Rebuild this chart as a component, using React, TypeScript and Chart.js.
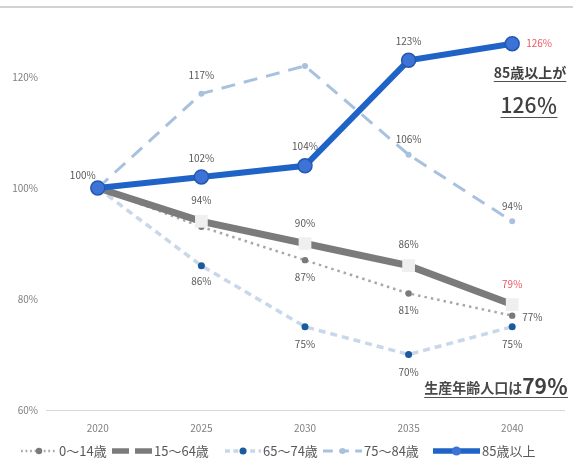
import React, { useEffect, useRef } from 'react';
import { Chart, registerables } from 'chart.js';

Chart.register(...registerables);

// ---------- data ----------
const categories = ['2020', '2025', '2030', '2035', '2040'];
const seriesNames = ['0～14歳', '15～64歳', '65～74歳', '75～84歳', '85歳以上'];
const values0to14 = [100, 93, 87, 81, 77];
const values15to64 = [100, 94, 90, 86, 79];
const values65to74 = [100, 86, 75, 70, 75];
const values75to84 = [100, 117, 122, 106, 94];
const values85plus = [100, 102, 104, 123, 126];
const shown0to14 = [false, false, true, true, true];
const shown15to64 = [false, true, true, true, true];
const shown65to74 = [false, true, true, true, true];
const shown75to84 = [false, true, false, true, true];
const shown85plus = [true, true, true, true, true];
const yMin = 60;
const yMax = 130;
const yStep = 20;
const noteTopLine = '85歳以上が';
const noteTopValue = '126％';
const noteBottomText = '生産年齢人口は';
const noteBottomValue = '79％';

const FONT = "'Noto Sans CJK JP', 'Noto Sans', sans-serif";
const LABEL_GRAY = '#595959';
const RED = '#ee5560';

const pointLabelPlugin = {
  id: 'pointLabels',
  afterDatasetsDraw(chart: any) {
    const ctx = chart.ctx;
    chart.data.datasets.forEach((ds: any, i: number) => {
      const cfg = ds.labelCfg;
      if (!cfg) return;
      const meta = chart.getDatasetMeta(i);
      meta.data.forEach((pt: any, j: number) => {
        if (!cfg.shown[j]) return;
        ctx.save();
        ctx.font = `10px ${FONT}`;
        ctx.fillStyle = (cfg.colors && cfg.colors[j]) || LABEL_GRAY;
        ctx.textAlign = (cfg.align && cfg.align[j]) || 'center';
        ctx.textBaseline = 'middle';
        const dx = cfg.dx ? cfg.dx[j] : 0;
        const dy = cfg.dy ? cfg.dy[j] : 0;
        ctx.fillText(`${ds.data[j]}%`, pt.x + dx, pt.y + dy);
        ctx.restore();
      });
    });
  },
};

const decorPlugin = {
  id: 'decor',
  beforeDraw(chart: any) {
    const ctx = chart.ctx;
    ctx.save();
    ctx.fillStyle = '#ffffff';
    ctx.fillRect(0, 0, chart.width, chart.height);
    ctx.fillStyle = '#d2d2d2';
    ctx.fillRect(0, 6, chart.width, 2);
    ctx.restore();
  },
  afterDraw(chart: any) {
    const ctx = chart.ctx;
    ctx.save();
    ctx.fillStyle = '#404040';
    ctx.strokeStyle = '#505050';
    ctx.lineWidth = 1;
    ctx.textBaseline = 'alphabetic';
    // top note
    ctx.textAlign = 'center';
    ctx.font = `bold 14px ${FONT}`;
    let w = ctx.measureText(noteTopLine).width;
    ctx.fillText(noteTopLine, 530, 78);
    ctx.beginPath();
    ctx.moveTo(530 - w / 2, 81.5);
    ctx.lineTo(530 + w / 2, 81.5);
    ctx.stroke();
    ctx.font = `500 21px ${FONT}`;
    w = ctx.measureText(noteTopValue).width;
    ctx.fillText(noteTopValue, 529, 113);
    ctx.beginPath();
    ctx.moveTo(529 - w / 2, 117.5);
    ctx.lineTo(529 + w / 2, 117.5);
    ctx.stroke();
    // bottom note
    ctx.textAlign = 'left';
    ctx.font = `bold 21px ${FONT}`;
    const w2 = ctx.measureText(noteBottomValue).width;
    ctx.font = `bold 14px ${FONT}`;
    const w1 = ctx.measureText(noteBottomText).width;
    const right = 568;
    const left = right - w1 - w2;
    ctx.fillStyle = '#4a4a4a';
    ctx.fillText(noteBottomText, left, 393);
    ctx.fillStyle = '#404040';
    ctx.font = `bold 21px ${FONT}`;
    ctx.fillText(noteBottomValue, left + w1, 394);
    ctx.beginPath();
    ctx.moveTo(left, 397.5);
    ctx.lineTo(right, 397.5);
    ctx.stroke();

    // legend
    const starts = [21, 112, 225, 323, 433];
    const widths = [36, 40, 36, 39, 47];
    const ly = 451;
    chart.data.datasets.forEach((ds: any, i: number) => {
      const x0 = starts[i];
      const sw = widths[i];
      ctx.save();
      ctx.strokeStyle = ds.borderColor;
      ctx.lineWidth = Math.min(ds.borderWidth, 5.5);
      ctx.setLineDash(ds.borderDash ? ds.borderDash.map((d: number) => d * 0.7) : []);
      ctx.beginPath();
      ctx.moveTo(x0, ly);
      ctx.lineTo(x0 + sw, ly);
      ctx.stroke();
      ctx.setLineDash([]);
      const cx = x0 + sw / 2;
      const r = Math.min(ds.pointRadius, 4.5);
      ctx.fillStyle = ds.pointBackgroundColor;
      if (ds.pointStyle === 'rect') {
        ctx.fillStyle = '#ffffff';
        ctx.fillRect(cx - 3, ly - 4, 6, 8);
      } else {
        ctx.beginPath();
        ctx.arc(cx, ly, r, 0, Math.PI * 2);
        ctx.fill();
      }
      ctx.restore();
      ctx.font = `13px ${FONT}`;
      ctx.fillStyle = LABEL_GRAY;
      ctx.textAlign = 'left';
      ctx.textBaseline = 'middle';
      ctx.fillText(ds.label, x0 + sw + 2, ly);
    });
    ctx.restore();
  },
};

export default function App() {
  const ref = useRef<HTMLCanvasElement | null>(null);
  useEffect(() => {
    document.body.style.margin = '0';
    if (!ref.current) return;
    const chart = new Chart(ref.current, {
      type: 'line',
      data: {
        labels: categories,
        datasets: [
          {
            label: seriesNames[0],
            data: values0to14,
            borderColor: '#a8a8a8',
            borderWidth: 2.5,
            borderDash: [2.5, 4],
            pointRadius: 3.2,
            pointBackgroundColor: '#7a7a7a',
            pointBorderColor: '#7a7a7a',
            pointBorderWidth: 0,
            order: 2,
            labelCfg: {
              shown: shown0to14,
              dx: [0, 0, 0, 0, 10],
              dy: [0, 0, 17, 17, 2],
              align: ['center', 'center', 'center', 'center', 'left'],
            },
          } as any,
          {
            label: seriesNames[1],
            data: values15to64,
            borderColor: '#7b7b7b',
            borderWidth: 7,
            pointStyle: 'rect',
            pointRadius: 9,
            pointBackgroundColor: '#efefef',
            pointBorderColor: '#efefef',
            pointBorderWidth: 0,
            order: 1,
            labelCfg: {
              shown: shown15to64,
              dx: [0, 0, 0, 0, 0],
              dy: [0, -21, -20, -21, -20],
              colors: [null, null, null, null, RED],
            },
          } as any,
          {
            label: seriesNames[2],
            data: values65to74,
            borderColor: '#c8d7ea',
            borderWidth: 3.5,
            borderDash: [7, 5],
            pointRadius: 3.5,
            pointBackgroundColor: '#1c5a9e',
            pointBorderColor: '#1c5a9e',
            pointBorderWidth: 0,
            order: 3,
            labelCfg: {
              shown: shown65to74,
              dy: [0, 16, 17, 18, 17],
            },
          } as any,
          {
            label: seriesNames[3],
            data: values75to84,
            borderColor: '#a7c1de',
            borderWidth: 3,
            borderDash: [14, 9],
            pointRadius: 3,
            pointBackgroundColor: '#a7c1de',
            pointBorderColor: '#a7c1de',
            pointBorderWidth: 0,
            order: 4,
            labelCfg: {
              shown: shown75to84,
              dy: [0, -18, -16, -15, -15],
            },
          } as any,
          {
            label: seriesNames[4],
            data: values85plus,
            borderColor: '#1f63c6',
            borderWidth: 6,
            pointRadius: 7,
            pointBackgroundColor: '#3d72d6',
            pointBorderColor: '#2557b0',
            pointBorderWidth: 1.5,
            order: 0,
            labelCfg: {
              shown: shown85plus,
              dx: [-15, 0, 0, 0, 14],
              dy: [-13, -19, -20, -19, 0],
              align: ['center', 'center', 'center', 'center', 'left'],
              colors: [null, null, null, null, RED],
            },
          } as any,
        ],
      },
      options: {
        responsive: false,
        animation: false,
        layout: { padding: { top: 21.5, right: 9, left: 0, bottom: 0 } },
        plugins: {
          legend: { display: false },
          tooltip: { enabled: false },
        },
        scales: {
          x: {
            type: 'category',
            offset: true,
            grid: { display: false, drawTicks: false },
            border: { display: true, color: '#d9d9d9', width: 1 },
            ticks: { color: '#7f7f7f', font: { size: 10, family: FONT }, padding: 12 },
            afterFit: (scale: any) => {
              scale.height = 60;
            },
          },
          y: {
            min: yMin,
            max: yMax,
            grid: { display: false, drawTicks: false },
            border: { display: false },
            ticks: {
              stepSize: yStep,
              color: '#7f7f7f',
              font: { size: 10, family: FONT },
              padding: 8,
              callback: (v: any) => ((Number(v) - yMin) % yStep === 0 ? `${v}%` : ''),
            },
            afterFit: (scale: any) => {
              scale.width = 46;
            },
          },
        },
      } as any,
      plugins: [decorPlugin, pointLabelPlugin],
    });
    return () => chart.destroy();
  }, []);
  return (
    <div style={{ width: 573, height: 470 }}>
      <canvas ref={ref} width={573} height={470} style={{ display: 'block' }} />
    </div>
  );
}
